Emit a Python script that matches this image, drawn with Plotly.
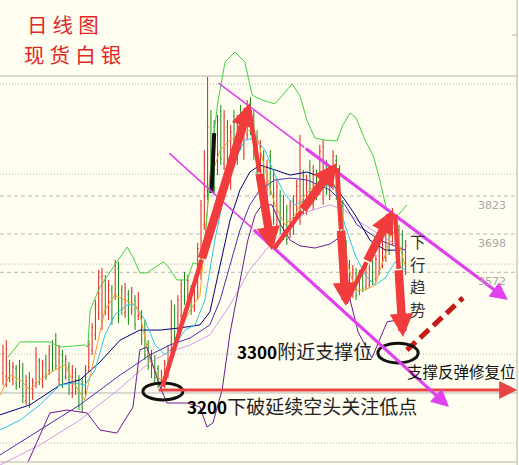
import plotly.graph_objects as go

# ---------------- data (daily bars, silver spot) ----------------
bar_index = list(range(123))
opens = [3240,3230,3270,3220,3255,3210,3255,3150,3225,3165,3205,3280,3210,3285,3250,3330,3350,3220,3300,3230,
         3260,3175,3240,3220,3205,3180,3260,3315,3365,3435,3410,3545,3435,3515,3500,3585,3515,3440,3500,3445,
         3480,3430,3435,3400,3335,3300,3285,3255,3190,3205,3240,3315,3450,3380,3430,3560,3465,3515,3455,3500,
         3570,3730,3840,4080,4050,3910,4100,3930,4050,3865,4085,3945,4105,3960,4025,4130,4085,4020,3835,3955,
         3785,3955,3890,3730,3825,3700,3775,3700,3810,3760,3750,3890,3780,3920,3795,3895,3845,3815,3925,3825,
         3860,3940,3905,3790,3660,3595,3500,3570,3510,3580,3525,3530,3600,3550,3575,3600,3620,3745,3675,3745,
         3710,3695,3575]
highs = [3333,3349,3284,3277,3267,3284,3274,3234,3244,3224,3326,3290,3284,3300,3333,3349,3372,3333,3317,3300,
         3277,3267,3257,3234,3224,3267,3349,3405,3481,3580,3586,3563,3547,3530,3613,3606,3530,3537,3514,3524,
         3497,3507,3448,3415,3349,3317,3300,3267,3251,3284,3333,3481,3465,3497,3547,3573,3563,3530,3547,3669,
         3810,3974,4215,4106,4073,4090,4123,4106,4073,4057,4106,4090,4123,4090,4139,4149,4106,4040,4007,3974,
         3942,3974,3909,3876,3843,3826,3794,3810,3826,3876,4024,3909,3892,3942,3925,3909,3991,4007,3942,3925,
         3974,3958,3925,3810,3678,3613,3596,3586,3580,3596,3606,3596,3613,3629,3662,3695,3728,3761,3784,3761,
         3728,3711,3678]
lows = [3201,3195,3211,3201,3185,3191,3142,3136,3126,3152,3191,3201,3191,3218,3234,3244,3251,3201,3191,3218,
        3168,3159,3168,3119,3109,3168,3244,3300,3349,3415,3382,3432,3415,3399,3481,3405,3432,3422,3399,3432,
        3382,3415,3333,3284,3251,3224,3208,3191,3178,3191,3224,3300,3317,3366,3415,3465,3448,3432,3442,3481,
        3547,3711,3810,3843,3826,3892,3925,3909,3876,3843,3942,3925,3974,3942,4007,4024,3942,3876,3810,3810,
        3761,3826,3728,3711,3695,3678,3662,3685,3695,3744,3728,3761,3761,3794,3777,3810,3826,3794,3826,3810,
        3843,3810,3678,3563,3497,3481,3488,3481,3497,3507,3514,3520,3530,3540,3563,3586,3606,3629,3662,3645,
        3606,3580,3563]
closes = [3305,3320,3225,3260,3200,3265,3165,3215,3140,3210,3300,3215,3270,3230,3315,3260,3265,3310,3210,3285,
          3185,3250,3180,3135,3125,3250,3335,3390,3460,3555,3560,3450,3530,3420,3595,3430,3450,3520,3420,3510,
          3400,3490,3350,3300,3265,3240,3225,3200,3240,3270,3320,3460,3335,3480,3530,3480,3545,3445,3535,3650,
          3790,3950,4050,3870,3850,4070,3945,4085,3895,4035,3960,4070,3990,4075,4120,4040,3960,3895,3985,3830,
          3920,3845,3745,3855,3710,3805,3680,3790,3710,3855,3990,3780,3875,3810,3905,3825,3970,3985,3840,3905,
          3955,3825,3700,3585,3515,3495,3580,3495,3565,3520,3590,3585,3540,3615,3645,3680,3710,3645,3765,3660,
          3620,3595,3660]

# indicator lines: (bar position, price)
boll_upper_x = [1.5,5.2,14.2,17.3,24.8,25.7,26.4,29.4,34.5,37.6,39.4,41.5,43.6,48.5,49.7,52.7,55.8,57.6,59.7,61.2,
                63.3,65.2,67.3,70.3,73.3,75.5,78.5,82.4,84.5,87.6,90,92.1,94.5,97.6,101.2,103,105.2,107,109.7,
                112.1,114.2,116.1,118.5,120.3,122.4]
boll_upper_y = [3293,3343,3343,3326,3333,3326,3448,3524,3606,3655,3622,3570,3570,3606,3596,3547,3547,3603,3596,3678,
                3974,4139,4264,4297,4264,4155,4139,4126,4152,4192,4152,4073,4014,4007,4004,4057,4096,4080,4007,
                3958,3876,3784,3751,3767,3794]
boll_lower_x = [7.6,14.2,19.4,25.5,29.4,34.5,39.4,41.5,43.6,45.5,47.6,49.7,55.8,59.7,61.8,63.6,66.4,68.8,71.8,
                74.2,76.4,78.5,81.5,84.2,87,90,94.5,99.1,102.1,103.6,105.2,107.6,111.8,114.2,116.4,119.4,121.8]
boll_lower_y = [2948,3109,3119,3109,3053,3043,3129,3317,3326,3261,3195,3142,3142,3129,3063,3076,3185,3372,3537,
                3678,3761,3794,3794,3728,3678,3659,3652,3665,3688,3613,3481,3376,3290,3349,3409,3415,3382]
ma5_x = [-0.9,2.1,5.2,8.2,11.2,15.8,18.8,21.8,24.8,27.9,30.9,33.9,37,40,41.5,44.5,47.6,49.1,51.2,53.6,56.7,59.7,
         61.2,62.7,65.8,68.8,71.8,74.8,77.3,79.4,82.4,85.5,88.5,91.5,94.5,97.6,100.6,102.1,104.5,106.7,109.7,
         112.7,115.8,117.9,119.7,121.8]
ma5_y = [3168,3234,3218,3185,3218,3251,3267,3201,3152,3300,3448,3497,3481,3465,3432,3284,3218,3234,3300,3382,3448,
         3497,3678,3876,3974,4007,4024,4040,4007,3909,3794,3728,3761,3826,3859,3876,3859,3826,3596,3514,3514,
         3530,3629,3711,3678,3596]
ma10_x = [-0.9,5.2,11.2,17.3,21.8,24.8,27.9,30.9,33.9,37.6,40,43,46.1,49.1,52.1,55.2,58.2,61.2,64.2,67.3,70.3,
          73.3,76.4,79.4,82.4,85.5,88.5,91.5,94.5,97.6,100.6,103.6,106.7,109.7,112.7,115.8,118.8,121.8]
ma10_y = [3053,3086,3136,3201,3208,3201,3251,3366,3432,3465,3465,3415,3333,3300,3333,3382,3399,3481,3678,3843,
          3942,4007,4014,3974,3892,3826,3794,3810,3826,3859,3849,3728,3629,3563,3530,3553,3606,3580]
ma20_x = [-0.9,8.2,17.3,23.3,29.4,35.5,41.5,47.6,53.6,59.7,62.7,65.8,68.8,71.8,74.8,77.9,82.4,87,92.1,99.1,
          103.6,106.7,111.2,115.8,120.3]
ma20_y = [3103,3136,3201,3218,3277,3349,3382,3382,3389,3399,3442,3596,3744,3843,3902,3925,3909,3892,3902,3876,
          3810,3761,3678,3645,3645]
ma30_x = [-0.9,11.2,23.3,35.5,44.5,50.6,56.7,62.7,65.8,68.8,71.8,74.8,77.9,82.4,87,92.1,99.1,103.6,107.3,114.2,
          121.8]
ma30_y = [2971,3053,3136,3234,3300,3333,3356,3399,3481,3596,3711,3794,3843,3876,3882,3876,3843,3794,3728,3678,
          3645]
ma60_x = [-0.9,11.2,23.3,35.5,44.5,50.6,56.7,62.7,68.8,74.8,80.9,87,92.1,99.1,103.6,107.3,114.2,121.8]
ma60_y = [2938,3004,3086,3191,3277,3310,3333,3366,3465,3580,3662,3728,3771,3794,3777,3744,3695,3645]

# analyst drawings: (tail bar, tail price, head bar, head price)
zigzag_arrows = [(48.2, 3191, 74.8, 4129),
                 (74.6, 4110, 81.5, 3645),
                 (81.8, 3645, 101.2, 3932),
                 (101.2, 3920, 103.9, 3461),
                 (103.6, 3465, 118.2, 3777),
                 (118.8, 3767, 121.2, 3359)]
channel_lines = [(64.85, 4198, 153.0, 3481),
                 (50.0, 3968, 135.15, 3129)]
low_line = (46.7, 3185, 155.8, 3185)
rebound_line = (122.4, 3316, 139.4, 3488)
black_seg = (64.0, 4030, 63.2, 3833)
circles = [(42.4, 54.5, 3152, 3208), (113.6, 125.8, 3274, 3339)]

grid_solid = [4218, 3175]
grid_dotted = [4191, 3895, 3599, 3303, 3010]
grid_dashed = [3823, 3698, 3572]
axis_labels = ["3823", "3698", "3572"]

X_RANGE = [-0.909, 156.364]
Y_RANGE = [2938, 4468]
W, H = 519, 465
BG = "#FFFEF0"
CJK = "Noto Sans CJK SC, Noto Sans, sans-serif"

fig = go.Figure()

def add_line(xs, ys, color, width=1):
    fig.add_trace(go.Scatter(x=xs, y=ys, mode="lines", line=dict(color=color, width=width),
                             hoverinfo="skip", showlegend=False))

add_line(ma60_x, ma60_y, "#d49ae4")
add_line(ma30_x, ma30_y, "#4a2fb0")
add_line(ma20_x, ma20_y, "#00007a")
add_line(ma10_x, ma10_y, "#2cc6e6")
add_line(ma5_x, ma5_y, "#f0a028")
add_line(boll_upper_x, boll_upper_y, "#3fd23f")
add_line(boll_lower_x, boll_lower_y, "#6c1c8c")

fig.add_trace(go.Ohlc(x=bar_index, open=opens, high=highs, low=lows, close=closes,
                      increasing=dict(line=dict(color="#e0201c", width=1)),
                      decreasing=dict(line=dict(color="#1b8a1b", width=1)),
                      tickwidth=0.25, hoverinfo="skip", showlegend=False))

shapes = []
for p in grid_solid:
    shapes.append(dict(type="line", xref="paper", yref="y", x0=0, x1=517/W, y0=p, y1=p,
                       line=dict(color="#b4b4b4", width=1), layer="below"))
for p in grid_dotted:
    shapes.append(dict(type="line", xref="paper", yref="y", x0=0, x1=517/W, y0=p, y1=p,
                       line=dict(color="#b8b8b8", width=1, dash="1px,2px"), layer="below"))
for p in grid_dashed:
    shapes.append(dict(type="line", xref="paper", yref="y", x0=0, x1=517/W, y0=p, y1=p,
                       line=dict(color="#b8b8b8", width=1, dash="4px,3px"), layer="below"))
# frame
shapes.append(dict(type="line", xref="paper", yref="paper", x0=517/W, x1=517/W, y0=0, y1=1,
                   line=dict(color="#b0b0b0", width=1)))
shapes.append(dict(type="line", xref="paper", yref="paper", x0=0, x1=517/W, y0=1-462/H, y1=1-462/H,
                   line=dict(color="#b0b0b0", width=1)))
shapes.append(dict(type="line", xref="paper", yref="paper", x0=512/W, x1=517/W, y0=1-35/H, y1=1-35/H,
                   line=dict(color="#b0b0b0", width=1)))
# drawings
x0, y0, x1, y1 = black_seg
shapes.append(dict(type="line", xref="x", yref="y", x0=x0, y0=y0, x1=x1, y1=y1,
                   line=dict(color="#111111", width=4)))
x0, y0, x1, y1 = rebound_line
shapes.append(dict(type="line", xref="x", yref="y", x0=x0, y0=y0, x1=x1, y1=y1,
                   line=dict(color="#c41a1a", width=5, dash="12px,6px")))
for cx0, cx1, cy0, cy1 in circles:
    shapes.append(dict(type="circle", xref="x", yref="y", x0=cx0, x1=cx1, y0=cy0, y1=cy1,
                       line=dict(color="#111111", width=3)))

annotations = []
def arrow(seg, color, width, size, head=2):
    tx, ty, hx, hy = seg
    annotations.append(dict(x=hx, y=hy, ax=tx, ay=ty, xref="x", yref="y", axref="x", ayref="y",
                            text="", showarrow=True, arrowhead=head, arrowsize=size,
                            arrowwidth=width, arrowcolor=color))

arrow(low_line, "#e84545", 3, 1.2)
for seg in channel_lines:
    tx, ty, hx, hy = seg
    mx, my = tx + (hx - tx) * 0.3, ty + (hy - ty) * 0.3
    arrow((tx, ty, mx, my), "#e040ee", 1.6, 1, head=0)
    arrow((mx, my, hx, hy), "#e040ee", 3.2, 1.1)
for seg in zigzag_arrows:
    tx, ty, hx, hy = seg
    mx, my = tx + (hx - tx) * 0.45, ty + (hy - ty) * 0.45
    arrow((tx, ty, mx, my), "#f03c3c", 4.5, 1, head=0)
    arrow((mx, my, hx, hy), "#f03c3c", 8.5, 0.55)

def text(s, px, py, size, color, anchor="left", family=CJK):
    annotations.append(dict(x=px/W, y=1-py/H, xref="paper", yref="paper", text=s, showarrow=False,
                            xanchor=anchor, yanchor="middle",
                            font=dict(family=family, size=size, color=color)))

sp = "\u2005"
text(sp.join("日线图"), 25, 24, 20.5, "#e02828")
text(sp.join("现货白银"), 22, 54, 20.5, "#e02828")
text("<span style='font-size:17px;color:#000'><b>3300</b></span>附近支撑位", 235, 350, 19, "#222222")
text("<span style='font-size:17px;color:#000'><b>3200</b></span>下破延续空头关注低点", 185, 405, 19, "#222222")
text("支撑反弹修复位", 405, 371, 15.5, "#111111")
for ch, py in zip("下行趋势", [241, 263.5, 286, 308.5]):
    text(ch, 418, py, 15.5, "#333333", anchor="center")
for lab, p in zip(axis_labels, grid_dashed):
    annotations.append(dict(x=508/W, y=p, xref="paper", yref="y", text=lab, showarrow=False,
                            xanchor="right", yanchor="top", yshift=-1,
                            font=dict(family="DejaVu Sans, sans-serif", size=11, color="#a8a8a8")))

fig.update_layout(
    width=W, height=H, margin=dict(l=0, r=0, t=0, b=0),
    paper_bgcolor=BG, plot_bgcolor=BG,
    xaxis=dict(range=X_RANGE, visible=False, rangeslider=dict(visible=False), fixedrange=True),
    yaxis=dict(range=Y_RANGE, visible=False, fixedrange=True),
    shapes=shapes, annotations=annotations, showlegend=False, hovermode=False,
)

fig.write_html("out.html", config={"displayModeBar": False},
               post_script="document.body.style.margin='0';document.body.style.background='#FFFEF0';")
